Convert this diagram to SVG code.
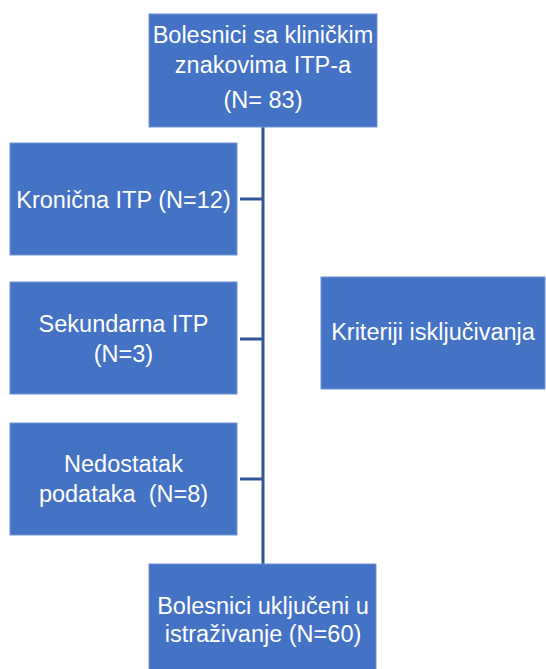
<svg xmlns="http://www.w3.org/2000/svg" width="546" height="669" viewBox="0 0 546 669">
<style>
.box{fill:#4472C4;stroke:#6F93D3;stroke-width:1}
.t{font-family:"Liberation Sans",Arial,sans-serif;font-size:23.5px;fill:#FFFFFF;text-anchor:middle}
.c{stroke:#2F5597;stroke-width:3;fill:none}
</style>
<rect width="546" height="669" fill="#FFFFFF"/>
<g id="connectors">
<line class="c" x1="263" y1="127" x2="263" y2="564"/>
<line class="c" x1="240" y1="199" x2="263" y2="199"/>
<line class="c" x1="240" y1="339" x2="263" y2="339"/>
<line class="c" x1="240" y1="479" x2="263" y2="479"/>
</g>
<g id="n-top">
<rect class="box" x="149" y="14" width="228" height="113"/>
<text class="t" x="263" y="43">Bolesnici sa kliničkim</text>
<text class="t" x="263" y="73">znakovima ITP-a</text>
<text class="t" x="263" y="108">(N= 83)</text>
</g>
<g id="n-kronicna">
<rect class="box" x="10" y="143" width="227" height="112"/>
<text class="t" x="123.5" y="208">Kronična ITP (N=12)</text>
</g>
<g id="n-sekundarna">
<rect class="box" x="10" y="282" width="227" height="112"/>
<text class="t" x="123.5" y="332">Sekundarna ITP</text>
<text class="t" x="123.5" y="362">(N=3)</text>
</g>
<g id="n-nedostatak">
<rect class="box" x="10" y="423" width="227" height="112"/>
<text class="t" x="123.5" y="472">Nedostatak</text>
<text class="t" x="123.5" y="502" xml:space="preserve">podataka  (N=8)</text>
</g>
<g id="n-kriteriji">
<rect class="box" x="321" y="277" width="224" height="112"/>
<text class="t" x="433" y="340">Kriteriji isključivanja</text>
</g>
<g id="n-bottom">
<rect class="box" x="149" y="564" width="227" height="112"/>
<text class="t" x="263" y="614">Bolesnici uključeni u</text>
<text class="t" x="263" y="642">istraživanje (N=60)</text>
</g>
</svg>
